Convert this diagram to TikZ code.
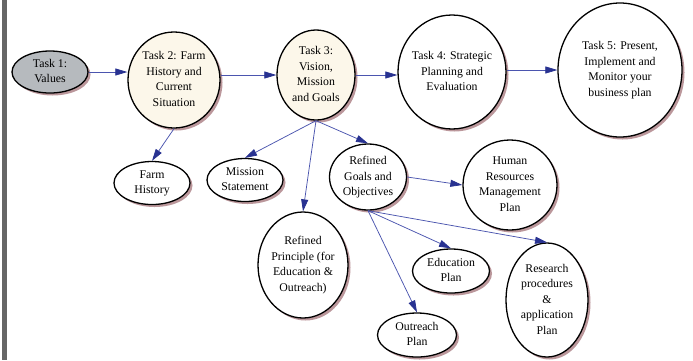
\documentclass[tikz,border=0pt]{standalone}
\usepackage{fontspec}
\setmainfont{Liberation Serif}
\usetikzlibrary{shapes.geometric,arrows.meta,shadows}
\definecolor{edgec}{RGB}{75,85,175}
\definecolor{headc}{RGB}{40,50,145}
\definecolor{shadc}{RGB}{180,140,145}
\definecolor{greyfill}{RGB}{182,186,190}
\definecolor{cream}{RGB}{252,247,234}
\definecolor{barc}{RGB}{102,102,102}
\newcommand\ztext[1]{\makebox[0pt]{\raisebox{-3pt}[0pt][0pt]{\begin{tabular}{@{}c@{}}#1\end{tabular}}}}
\begin{document}
\begin{tikzpicture}[x=1pt,y=-1pt,
  bub/.style={ellipse, draw=black, line width=1.3pt, fill=white, inner sep=0pt,
    font=\fontsize{11.8}{15.5}\selectfont,
    drop shadow={shadow xshift=2.5pt, shadow yshift=-2.5pt, fill=shadc, opacity=0.9}},
  conn/.style={draw=edgec, line width=0.75pt, -{Triangle[length=12pt,width=7pt,color=headc]}}]
\useasboundingbox (0,0) rectangle (693,360);
\fill[white] (0,0) rectangle (693,360);
\fill[barc] (2,0) rectangle (7,360);

\node[bub, fill=greyfill, minimum width=76pt, minimum height=42pt] (t1) at (50,72) {\ztext{Task 1:\\Values}};
\node[bub, fill=cream, minimum width=92pt, minimum height=96pt] (t2) at (174,80) {\ztext{Task 2: Farm\\History and\\Current\\Situation}};
\node[bub, fill=cream, minimum width=78pt, minimum height=90pt] (t3) at (316,75) {\ztext{Task 3:\\Vision,\\Mission\\and Goals}};
\node[bub, minimum width=108pt, minimum height=114pt] (t4) at (452,72) {\ztext{Task 4: Strategic\\Planning and\\Evaluation}};
\node[bub, minimum width=124pt, minimum height=134pt] (t5) at (620,70) {\ztext{Task 5: Present,\\Implement and\\Monitor your\\business plan}};
\node[bub, minimum width=76pt, minimum height=43pt] (fh) at (152,183) {\ztext{Farm\\History}};
\node[bub, minimum width=76pt, minimum height=43pt] (ms) at (245,180) {\ztext{Mission\\Statement}};
\node[bub, minimum width=77pt, minimum height=66pt] (rg) at (368,177) {\ztext{Refined\\Goals and\\Objectives}};
\node[bub, minimum width=90pt, minimum height=106pt] (rp) at (303,265) {\ztext{Refined\\Principle (for\\Education \&\\Outreach)}};
\node[bub, minimum width=94pt, minimum height=90pt] (hr) at (510,185) {\ztext{Human\\Resources\\Management\\Plan}};
\node[bub, minimum width=77pt, minimum height=44pt] (ep) at (451,271) {\ztext{Education\\Plan}};
\node[bub, minimum width=79pt, minimum height=44pt] (op) at (417,335) {\ztext{Outreach\\Plan}};
\node[bub, minimum width=82pt, minimum height=114pt] (rs) at (547,300) {\ztext{Research\\procedures\\\&\\application\\Plan}};

\draw[conn] (t1.east) -- (t2.west |- t1.east);
\draw[conn] (t2.east |- t3.west) -- (t3.west);
\draw[conn] (t3.east) -- (t4.west |- t3.east);
\draw[conn] (t4.east |- t5.west) -- (t5.west);
\draw[conn] (t2.south) -- (fh.north);
\draw[conn] (t3.south) -- (ms.north);
\draw[conn] (t3.south) -- (rp.north);
\draw[conn] (t3.south) -- (rg.north);
\draw[conn] (rg.east) -- (hr.west);
\draw[conn] (rg.south) -- (ep.north);
\draw[conn] (rg.south) -- (rs.north);
\draw[conn] (rg.south) -- (op.north);
\end{tikzpicture}
\end{document}
